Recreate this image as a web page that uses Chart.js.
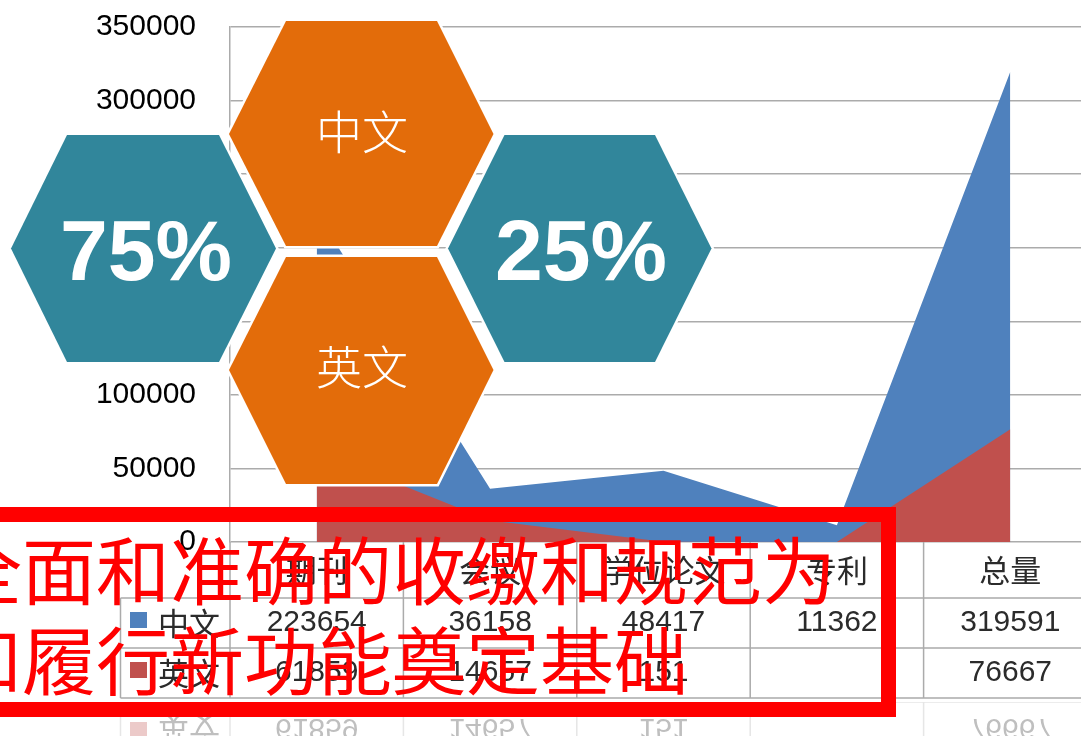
<!DOCTYPE html>
<html>
<head>
<meta charset="utf-8">
<script src="https://cdn.jsdelivr.net/npm/chart.js@4.4.0/dist/chart.umd.min.js"></script>
<style>
  html, body { margin: 0; padding: 0; background: #fff; overflow: hidden; }
  #wrap { position: relative; width: 1081px; height: 736px; overflow: hidden; }
  #chart { position: absolute; left: 0; top: 0; }
  #overlay { position: absolute; left: 0; top: 0; overflow: visible; }
</style>
</head>
<body>
<div id="wrap">
  <canvas id="chart" width="1100" height="736"></canvas>
  <svg id="overlay" width="1081" height="736" xmlns="http://www.w3.org/2000/svg">
    <g stroke="#fff" stroke-width="5" stroke-linejoin="miter" paint-order="stroke">
      <polygon fill="#31869B" points="11,248.5 67,135 219,135 276,248.5 219,362 67,362"/>
      <polygon fill="#31869B" points="448,248.5 504.5,135 655,135 711.5,248.5 655,362 504.5,362"/>
      <polygon fill="#E36C0A" points="229,134 286,21 437,21 493.5,134 437,246 286,246"/>
      <polygon fill="#E36C0A" points="229,370 286,257 437,257 493.5,370 437,484 286,484"/>
    </g>
    <g fill="#fff" font-family="Liberation Sans, Arial, sans-serif" font-weight="bold" font-size="86" text-anchor="middle">
      <text x="146" y="280">75%</text>
      <text x="581" y="280">25%</text>
    </g>
    <g fill="#fff" font-family="Noto Sans CJK SC" font-weight="300" font-size="46" text-anchor="middle" dominant-baseline="central">
      <text x="362" y="129">中文</text>
      <text x="362" y="364">英文</text>
    </g>
    <rect x="-30" y="514.5" width="918.5" height="195" fill="none" stroke="#FF0000" stroke-width="15"/>
    <g fill="#FF0000" font-family="Noto Sans CJK SC" font-size="74" dominant-baseline="central">
      <text x="-52" y="566">全面和准确的收缴和规范为</text>
      <text x="-52" y="656">和履行新功能奠定基础</text>
    </g>
  </svg>
</div>
<script>
const categories = ["期刊", "会议", "学位论文", "专利", "总量"];
const seriesNames = ["中文", "英文"];
const chineseCounts = [223654, 36158, 48417, 11362, 319591];
const englishCounts = [61859, 14657, 151, null, 76667];
const yTickLabels = ["0", "50000", "100000", "150000", "200000", "250000", "300000", "350000"];
const seriesColors = ["#4F81BD", "#C0504D"];

const gridGray = "#ABABAB";

// data table under the plot, drawn from the x scale positions
const dataTable = {
  id: "dataTable",
  afterDraw(chart) {
    const { ctx, chartArea, scales: { x } } = chart;
    const top = chartArea.bottom;
    const headH = 56, rowH = 50;
    const keyLeft = 120.5;
    const right = chart.width;
    const half = (x.getPixelForTick(1) - x.getPixelForTick(0)) / 2;
    const bottom = top + headH + rowH * 2;

    ctx.save();
    ctx.strokeStyle = gridGray;
    ctx.lineWidth = 1.5;
    ctx.beginPath();
    for (let r = 0; r < 3; r++) {
      const y = top + headH + rowH * r;
      ctx.moveTo(keyLeft, y);
      ctx.lineTo(right, y);
    }
    ctx.moveTo(keyLeft, top + headH);
    ctx.lineTo(keyLeft, bottom);
    ctx.moveTo(chartArea.left, top);
    ctx.lineTo(chartArea.left, bottom);
    categories.forEach((c, i) => {
      const xd = x.getPixelForTick(i) + half;
      ctx.moveTo(xd, top);
      ctx.lineTo(xd, bottom);
    });
    ctx.stroke();

    ctx.fillStyle = "#2b2b2b";
    ctx.textAlign = "center";
    ctx.textBaseline = "middle";
    ctx.font = '31px "Noto Sans CJK SC"';
    categories.forEach((c, i) => ctx.fillText(c, x.getPixelForTick(i), top + headH / 2));

    const rows = [chineseCounts, englishCounts];
    rows.forEach((vals, r) => {
      const cy = top + headH + rowH * r + rowH / 2;
      ctx.fillStyle = seriesColors[r];
      ctx.fillRect(130, cy - 11, 17, 16);
      ctx.fillStyle = "#2b2b2b";
      ctx.textAlign = "left";
      ctx.font = '31px "Noto Sans CJK SC"';
      ctx.fillText(seriesNames[r], 158, cy);
      ctx.textAlign = "center";
      ctx.font = '30px "Liberation Sans"';
      vals.forEach((v, i) => {
        if (v !== null) ctx.fillText(String(v), x.getPixelForTick(i), cy);
      });
    });
    ctx.restore();

    // faded mirror of the last row below the table
    const axisY = bottom + 2;
    ctx.save();
    ctx.globalAlpha = 0.3;
    ctx.translate(0, axisY * 2);
    ctx.scale(1, -1);
    ctx.drawImage(chart.canvas, 0, bottom - rowH, chart.width, rowH, 0, bottom - rowH, chart.width, rowH);
    ctx.restore();
  }
};

new Chart(document.getElementById("chart"), {
  type: "line",
  data: {
    labels: categories,
    datasets: [
      {
        label: seriesNames[0],
        data: chineseCounts,
        backgroundColor: seriesColors[0],
        borderWidth: 0,
        fill: "origin",
        pointRadius: 0,
        order: 2
      },
      {
        label: seriesNames[1],
        data: englishCounts.map(v => v ?? 0),
        backgroundColor: seriesColors[1],
        borderWidth: 0,
        fill: "origin",
        pointRadius: 0,
        order: 1
      }
    ]
  },
  options: {
    responsive: false,
    animation: false,
    devicePixelRatio: 1,
    layout: { padding: { top: 27, right: 3, bottom: 194, left: 0 } },
    plugins: { legend: { display: false }, tooltip: { enabled: false } },
    elements: { line: { tension: 0 } },
    scales: {
      x: { display: false, offset: true },
      y: {
        min: 0,
        max: 350000,
        afterFit: s => { s.width = 230; },
        grid: { color: gridGray, lineWidth: 1.5, drawTicks: true, tickLength: 30, tickColor: "rgba(0,0,0,0)" },
        border: { display: true, color: gridGray, width: 1.5 },
        ticks: {
          stepSize: 50000,
          padding: 4,
          color: "#000",
          font: { family: "Liberation Sans", size: 30 },
          callback: (v, i) => yTickLabels[i]
        }
      }
    }
  },
  plugins: [dataTable]
});
</script>
</body>
</html>
